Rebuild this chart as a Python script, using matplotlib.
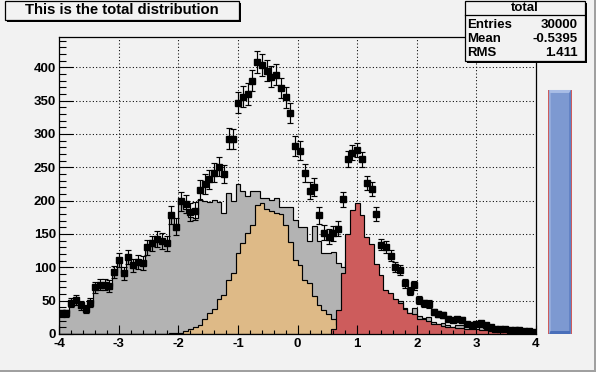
import numpy as np
import matplotlib
matplotlib.use("Agg")
import matplotlib.pyplot as plt
from matplotlib.patches import Rectangle, Polygon

plt.rcParams['font.family'] = ['Liberation Sans', 'DejaVu Sans']
plt.rcParams['font.weight'] = 'bold'

W, H = 596, 372
BG = '#f2f2f2'

# ---------------- data (100 bins from -4 to 4) ----------------
x_min, x_max, n_bins = -4.0, 4.0, 100

main = [31, 31, 47, 51, 43, 38, 47, 70, 74, 74,
        72, 93, 111, 91, 115, 103, 108, 106, 130, 136,
        142, 140, 136, 178, 161, 199, 188, 176, 174, 202,
        200, 198, 201, 198, 182, 211, 200, 225, 214, 207,
        215, 214, 204, 204, 201, 204, 190, 191, 191, 171,
        160, 161, 140, 162, 140, 122, 122, 123, 106, 100,
        109, 83, 78, 81, 81, 83, 75, 45, 64, 56,
        48, 49, 39, 32, 39, 27, 24, 26, 18, 15,
        16, 13, 11, 14, 13, 8, 7, 8, 10, 8,
        6, 4, 4, 3, 2, 3, 2, 2, 2, 1]

s1 = [0, 0, 0, 0, 0, 0, 0, 0, 0, 0,
      0, 0, 0, 0, 0, 0, 0, 0, 0, 0,
      0, 0, 0, 1, 1, 1, 5, 7, 10, 13,
      23, 31, 37, 52, 58, 81, 91, 121, 137, 151,
      163, 193, 197, 188, 184, 182, 180, 163, 138, 111,
      103, 81, 76, 57, 44, 36, 30, 22, 14, 9,
      5, 3, 2, 1, 0, 0, 0, 0, 0, 0,
      0, 0, 0, 0, 0, 0, 0, 0, 0, 0,
      0, 0, 0, 0, 0, 0, 0, 0, 0, 0,
      0, 0, 0, 0, 0, 0, 0, 0, 0, 0]

s2 = [0, 0, 0, 0, 0, 0, 0, 0, 0, 0,
      0, 0, 0, 0, 0, 0, 0, 0, 0, 0,
      0, 0, 0, 0, 0, 0, 0, 0, 0, 0,
      0, 0, 0, 0, 0, 0, 0, 0, 0, 0,
      0, 0, 0, 0, 0, 0, 0, 0, 0, 0,
      0, 0, 0, 0, 0, 0, 0, 7, 36, 92,
      150, 186, 196, 179, 146, 135, 105, 89, 66, 61,
      52, 46, 37, 32, 30, 23, 22, 19, 15, 15,
      12, 11, 10, 9, 9, 7, 7, 7, 6, 6,
      5, 5, 4, 4, 4, 3, 3, 3, 3, 2]

total = [31, 31, 47, 51, 43, 38, 47, 70, 74, 74,
         72, 93, 111, 91, 115, 103, 108, 106, 130, 136,
         142, 140, 136, 179, 161, 199, 195, 183, 184, 216,
         225, 232, 242, 251, 240, 293, 293, 347, 356, 360,
         380, 408, 403, 395, 386, 389, 369, 355, 331, 282,
         275, 241, 215, 221, 178, 152, 146, 151, 158, 202,
         263, 272, 276, 262, 227, 218, 180, 134, 130, 117,
         100, 96, 76, 64, 73, 51, 46, 45, 33, 30,
         28, 23, 21, 22, 21, 15, 14, 15, 16, 14,
         10, 8, 8, 7, 6, 6, 6, 5, 5, 3]

# sum of squared weights (main weight 1, s1 weight 0.3, s2 weight 0.2)
sumw2 = np.array(main) + 0.3 * np.array(s1) + 0.2 * np.array(s2)

stats_title = "total"
stats_rows = [("Entries", "30000"), ("Mean", "-0.5395"), ("RMS", "1.411")]
title_text = "This is the total distribution"
slider_range = (4.2, 4.6, 0, 366)

# ---------------- figure ----------------
fig = plt.figure(figsize=(W / 100, H / 100), dpi=100, facecolor=BG)

def fx(px):
    return px / W

def fy(py):
    return 1 - py / H

L, R, T, B = 59.3, 536.0, 37.3, 334.0
ax = fig.add_axes([fx(L), fy(B), fx(R) - fx(L), fy(T) - fy(B)])
ax.set_facecolor(BG)
ax.set_xlim(x_min, x_max)
ax.set_ylim(0, 445)

edges = np.linspace(x_min, x_max, n_bins + 1)
centers = 0.5 * (edges[:-1] + edges[1:])

# grid (below histograms)
for xv in np.arange(-3, 4, 1):
    ax.axvline(xv, color='black', lw=0.75, ls=(0, (1, 2.2)), zorder=0.5)
for yv in np.arange(50, 445, 50):
    ax.axhline(yv, color='black', lw=0.75, ls=(0, (1, 2.2)), zorder=0.5)

# histograms
for vals, col, z in [(main, '#b3b3b3', 1.0), (s1, '#deba87', 1.1), (s2, '#cd5c5c', 1.2)]:
    ax.stairs(vals, edges, fill=True, facecolor=col, edgecolor='none', lw=0, zorder=z)
    ax.stairs(vals, edges, fill=False, color='black', lw=0.85, zorder=z + 0.01,
              baseline=0)

# total with error bars
ax.errorbar(centers, total, yerr=np.sqrt(sumw2), fmt='s', color='black',
            ms=4.5, mec='black', mfc='black', elinewidth=0.85, capsize=2.1,
            capthick=0.85, zorder=3)

# axes styling
ax.set_xticks(np.arange(-4, 4.01, 1))
ax.set_xticks(np.arange(-4, 4.01, 0.2), minor=True)
ax.set_yticks(np.arange(0, 401, 50))
ax.set_yticks(np.arange(0, 441, 10), minor=True)
ax.set_xticklabels([str(int(v)) for v in np.arange(-4, 4.01, 1)])
ax.tick_params(axis='both', which='both', direction='in', top=False, right=False,
               colors='black', width=0.8, labelsize=9.5)
ax.tick_params(axis='x', which='major', length=6.5, pad=3)
ax.tick_params(axis='x', which='minor', length=3.2)
ax.tick_params(axis='y', which='major', length=10, pad=2.4)
ax.tick_params(axis='y', which='minor', length=5)
for lab in ax.get_xticklabels() + ax.get_yticklabels():
    lab.set_fontweight('bold')
for sp in ax.spines.values():
    sp.set_linewidth(0.9)
    sp.set_color('black')

# slider on the right
sx0, sx1, sy0, sy1 = slider_range
ax.add_patch(Rectangle((sx0, sy0), sx1 - sx0, sy1 - sy0, facecolor='#cd5c5c',
                       edgecolor='none', clip_on=False, zorder=4))
ix0 = sx0 + 0.025
ix1 = sx1 - 0.02
ax.add_patch(Rectangle((ix0, sy0), ix1 - ix0, sy1 - sy0, facecolor='#7d99d1',
                       edgecolor='none', clip_on=False, zorder=4.1))
bw = 0.018
bh = 4.5
ax.add_patch(Polygon([(ix0, sy0), (ix0, sy1), (ix1, sy1), (ix1 - bw, sy1 - bh),
                      (ix0 + bw, sy1 - bh), (ix0 + bw, sy0 + bh)],
                     closed=True, facecolor='#a9bde6', edgecolor='none',
                     clip_on=False, zorder=4.2))
ax.add_patch(Polygon([(ix0, sy0), (ix1, sy0), (ix1, sy1), (ix1 - bw, sy1 - bh),
                      (ix1 - bw, sy0 + bh), (ix0 + bw, sy0 + bh)],
                     closed=True, facecolor='#4a6fba', edgecolor='none',
                     clip_on=False, zorder=4.2))

# ---------------- title box ----------------
def pave(x0, y0, x1, y1, shadow=2):
    fig.patches.append(Rectangle((fx(x0 + shadow), fy(y1 + shadow)),
                                 fx(x1 - x0), fy(y0) - fy(y1),
                                 transform=fig.transFigure, facecolor='black',
                                 edgecolor='none', zorder=5))
    fig.patches.append(Rectangle((fx(x0), fy(y1)), fx(x1 - x0), fy(y0) - fy(y1),
                                 transform=fig.transFigure, facecolor=BG,
                                 edgecolor='black', lw=0.9, zorder=6))

pave(5, 1, 239, 19.5)
fig.text(fx(122), fy(10.5), title_text, ha='center', va='center',
         fontsize=10.7, fontweight='bold', zorder=7)

# ---------------- stats box ----------------
pave(465, 1, 585, 60.5)
fig.add_artist(plt.Line2D([fx(465), fx(585)], [fy(14.5), fy(14.5)],
                          transform=fig.transFigure, color='black', lw=0.9,
                          zorder=7))
fig.text(fx(525), fy(8), stats_title, ha='center', va='center', fontsize=9.5,
         fontweight='bold', zorder=7)
for i, (k, v) in enumerate(stats_rows):
    yy = 24.5 + i * 14.2
    fig.text(fx(467.5), fy(yy), k, ha='left', va='center', fontsize=9.5,
             fontweight='bold', zorder=7)
    fig.text(fx(578), fy(yy), v, ha='right', va='center', fontsize=9.5,
             fontweight='bold', zorder=7)

# canvas bevel (bottom / right)
fig.patches.append(Rectangle((0, 0), 1, fy(369.5), transform=fig.transFigure,
                             facecolor='#a0a0a0', edgecolor='none', zorder=8))
fig.patches.append(Rectangle((fx(593.5), 0), 1 - fx(593.5), 1,
                             transform=fig.transFigure, facecolor='#a0a0a0',
                             edgecolor='none', zorder=8))

fig.savefig('out.png', dpi=100, facecolor=BG)
